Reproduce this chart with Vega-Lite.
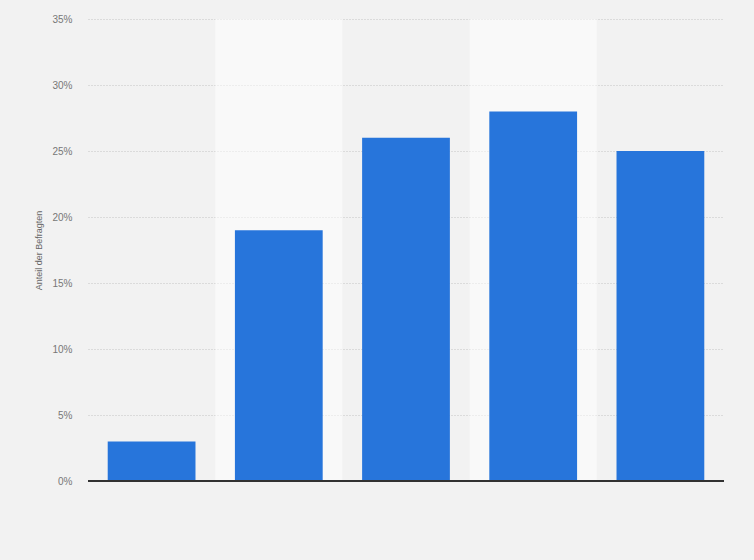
{
  "$schema": "https://vega.github.io/schema/vega-lite/v6.json",
  "width": 636,
  "height": 462,
  "autosize": {"type": "none"},
  "padding": {"left": 88, "top": 19, "right": 30, "bottom": 79},
  "background": "#f2f2f2",
  "config": {
    "view": {"stroke": null},
    "font": "Arial, Liberation Sans, sans-serif"
  },
  "data": {
    "values": [
      {"kategorie": "1", "anteil": 3, "shade": false},
      {"kategorie": "2", "anteil": 19, "shade": true},
      {"kategorie": "3", "anteil": 26, "shade": false},
      {"kategorie": "4", "anteil": 28, "shade": true},
      {"kategorie": "5", "anteil": 25, "shade": false}
    ]
  },
  "encoding": {
    "x": {
      "field": "kategorie",
      "type": "nominal",
      "sort": ["1", "2", "3", "4", "5"],
      "scale": {"paddingInner": 0, "paddingOuter": 0},
      "axis": null
    }
  },
  "layer": [
    {
      "transform": [{"filter": "datum.shade"}],
      "mark": {"type": "bar", "color": "#ffffff", "opacity": 0.5},
      "encoding": {}
    },
    {
      "mark": {"type": "bar", "color": "#2775db", "width": {"band": 0.69}},
      "encoding": {
        "y": {
          "field": "anteil",
          "type": "quantitative",
          "scale": {"domain": [0, 35]},
          "axis": {
            "title": "Anteil der Befragten",
            "titleFontSize": 9,
            "titleFontWeight": "normal",
            "titleColor": "#666666",
            "titlePadding": 8,
            "values": [0, 5, 10, 15, 20, 25, 30, 35],
            "labelExpr": "datum.value + '%'",
            "labelFontSize": 10,
            "labelColor": "#777777",
            "labelPadding": 16,
            "ticks": false,
            "domain": false,
            "grid": true,
            "gridColor": "#c4c4c4",
            "gridDash": [1, 2],
            "gridWidth": 1
          }
        }
      }
    },
    {
      "mark": {"type": "rule", "color": "#333333", "strokeWidth": 1.5},
      "encoding": {"y": {"datum": 0, "type": "quantitative"}, "x": {"value": 0}, "x2": {"value": 636}}
    }
  ]
}
